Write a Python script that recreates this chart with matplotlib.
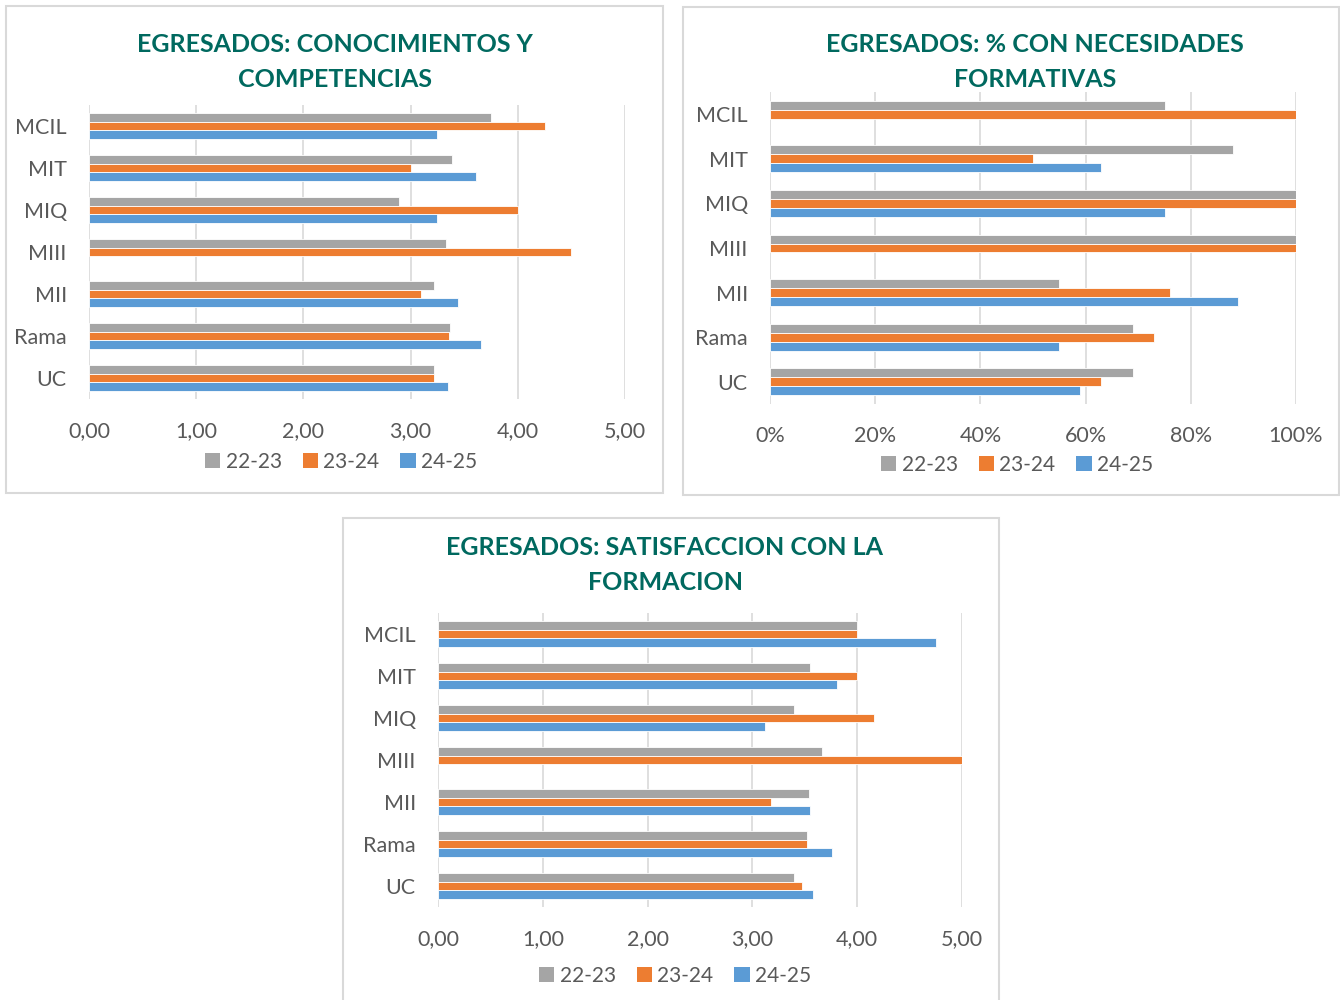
import matplotlib
matplotlib.use("Agg")
import matplotlib.pyplot as plt
from matplotlib.patches import Rectangle, Patch
from matplotlib.ticker import FuncFormatter
import numpy as np

plt.rcParams['font.family'] = ['Lato', 'DejaVu Sans']

categories = ["MCIL", "MIT", "MIQ", "MIII", "MII", "Rama", "UC"]
series = ["22-23", "23-24", "24-25"]
colors = ["#A5A5A5", "#ED7D31", "#5B9BD5"]

# Chart 1: Conocimientos y competencias
c1_2223 = [3.75, 3.39, 2.89, 3.33, 3.22, 3.37, 3.22]
c1_2324 = [4.25, 3.00, 4.00, 4.50, 3.10, 3.36, 3.22]
c1_2425 = [3.25, 3.61, 3.25, np.nan, 3.44, 3.66, 3.35]

# Chart 2: % con necesidades formativas
c2_2223 = [75, 88, 100, 100, 55, 69, 69]
c2_2324 = [100, 50, 100, 100, 76, 73, 63]
c2_2425 = [np.nan, 63, 75, np.nan, 89, 55, 59]

# Chart 3: Satisfaccion con la formacion
c3_2223 = [4.00, 3.55, 3.40, 3.66, 3.54, 3.52, 3.40]
c3_2324 = [4.00, 4.00, 4.16, 5.00, 3.18, 3.52, 3.47]
c3_2425 = [4.75, 3.81, 3.12, np.nan, 3.55, 3.76, 3.58]

W, H = 1340, 1000
fig = plt.figure(figsize=(W / 100, H / 100), dpi=100)

TITLE_COLOR = "#00695F"
TEXT_COLOR = "#595959"
GRID_COLOR = "#D9D9D9"


def px_box(x0, y0, x1, y1):
    return [x0 / W, 1 - y1 / H, (x1 - x0) / W, (y1 - y0) / H]


def panel(box, plot, title_xy, title, data, xmax, step, fmt, legend_xy):
    bx0, by0, bx1, by1 = box
    fig.patches.append(Rectangle((bx0 / W, 1 - by1 / H), (bx1 - bx0) / W, (by1 - by0) / H,
                                 transform=fig.transFigure, fill=False,
                                 edgecolor=GRID_COLOR, linewidth=1.5, zorder=0))
    ax = fig.add_axes(px_box(*plot))
    y = np.arange(len(categories))
    h = 0.2
    offs = [-h, 0, h]
    for vals, off, col, lab in zip(data, offs, colors, series):
        ax.barh(y + off, vals, height=h, color=col, edgecolor="white", linewidth=0.6,
                label=lab, zorder=3)
    ax.set_ylim(len(categories) - 0.5, -0.5)
    ax.set_xlim(0, xmax)
    ax.set_xticks(np.arange(0, xmax + step / 2, step))
    ax.xaxis.set_major_formatter(FuncFormatter(fmt))
    ax.set_yticks(y)
    ax.set_yticklabels(categories)
    ax.tick_params(axis='both', length=0, labelsize=15.5, colors=TEXT_COLOR)
    ax.tick_params(axis='x', pad=16)
    ax.tick_params(axis='y', pad=16)
    for s in ax.spines.values():
        s.set_visible(False)
    ax.grid(axis='x', color=GRID_COLOR, linewidth=1.2, zorder=0)
    ax.set_axisbelow(True)
    fig.text(title_xy[0] / W, 1 - title_xy[1] / H, title, ha='center', va='center', fontsize=18,
             fontweight='bold', color=TITLE_COLOR, linespacing=1.6)
    handles = [Patch(facecolor=c, edgecolor='none') for c in colors]
    fig.legend(handles, series, loc='center', bbox_to_anchor=(legend_xy[0] / W, 1 - legend_xy[1] / H),
               ncol=3, frameon=False, fontsize=15, labelcolor=TEXT_COLOR,
               handlelength=0.75, handleheight=0.75, handletextpad=0.25, columnspacing=1.0)
    return ax


num_fmt = lambda v, p: f"{v:.2f}".replace(".", ",")
pct_fmt = lambda v, p: f"{v:.0f}%"

panel((6, 6, 663, 493), (89, 105, 625, 399), (335, 62),
      "EGRESADOS: CONOCIMIENTOS Y\nCOMPETENCIAS",
      [c1_2223, c1_2324, c1_2425], 5, 1, num_fmt, (341, 462))

panel((683, 7, 1339, 495), (770, 92, 1296, 404), (1035, 62),
      "EGRESADOS: % CON NECESIDADES\nFORMATIVAS",
      [c2_2223, c2_2324, c2_2425], 100, 20, pct_fmt, (1017, 465))

panel((343, 518, 999, 1010), (438, 613, 962, 907), (665, 565),
      "EGRESADOS: SATISFACCION CON LA\nFORMACION",
      [c3_2223, c3_2324, c3_2425], 5, 1, num_fmt, (675, 976))

fig.savefig("out.png", dpi=100)
